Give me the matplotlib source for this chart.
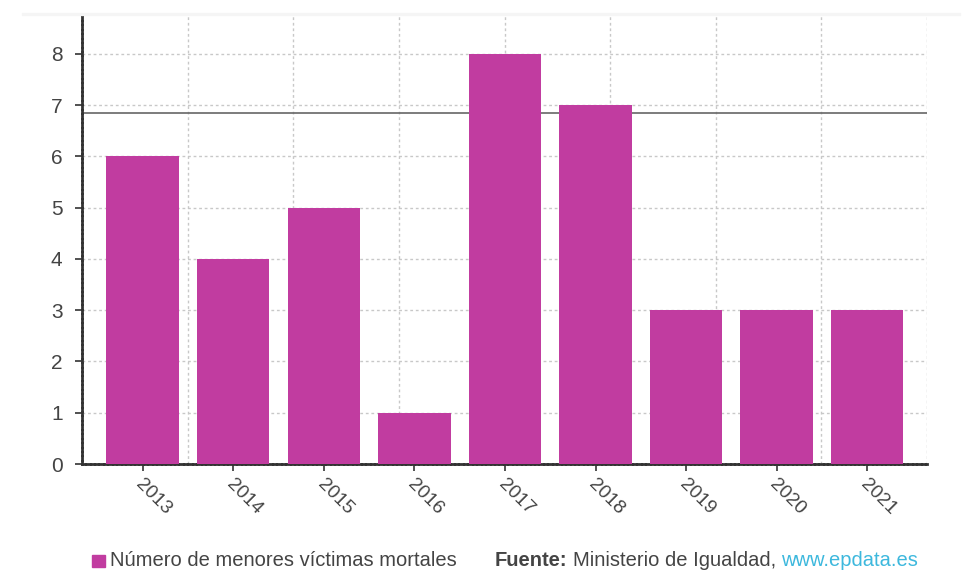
import matplotlib
matplotlib.use("Agg")
import matplotlib.pyplot as plt
from matplotlib.patches import Rectangle
import matplotlib.transforms as mtransforms

years = ["2013", "2014", "2015", "2016", "2017", "2018", "2019", "2020", "2021"]
values = [6, 4, 5, 1, 8, 7, 3, 3, 3]
ref_line = 6.85
yticks = [0, 1, 2, 3, 4, 5, 6, 7, 8]
legend_label = "Número de menores víctimas mortales"

bar_color = "#C13CA0"
text_color = "#444444"

plt.rcParams['font.family'] = ['Liberation Sans', 'DejaVu Sans']

W, H = 971, 570
fig = plt.figure(figsize=(W / 100, H / 100), dpi=100)
ax = fig.add_axes([82 / W, 1 - 464 / H, (927 - 82) / W, (464 - 14) / H])

x = list(range(len(years)))
ax.bar(x, values, width=0.8, color=bar_color, zorder=3)
ax.axhline(ref_line, color="#666666", linewidth=1.2, zorder=2)

ax.set_xlim(-0.67, 8.66)
ax.set_ylim(0, 8.78)
ax.set_yticks(yticks)
ax.set_xticks(x)
ax.set_xticklabels([])

# rotated x labels
base = mtransforms.blended_transform_factory(ax.transData, ax.transAxes)
offset = mtransforms.ScaledTranslation(2 / 100, -12 / 100, fig.dpi_scale_trans)
for xi, yr in zip(x, years):
    ax.text(xi, 0, yr, transform=base + offset, rotation=-45, ha="left", va="top",
            rotation_mode="anchor", fontsize=13.8, color=text_color, clip_on=False)

# grid
ax.yaxis.grid(True, color="#c8c8c8", linestyle=(0, (2, 2)), linewidth=1, zorder=0)
x0, x1 = ax.get_xlim()
for i in range(1, 9):
    xv = x0 + (x1 - x0) * i / 8
    ax.axvline(xv, color="#c8c8c8", linestyle=(0, (2, 2)), linewidth=1, zorder=0)

for s in ["top", "right"]:
    ax.spines[s].set_visible(False)
for s in ["left", "bottom"]:
    ax.spines[s].set_color("#333333")
    ax.spines[s].set_linewidth(2)
    ax.spines[s].set_linestyle((0, (1, 0.6)))

ax.tick_params(axis="both", colors="#333333", labelcolor=text_color, length=5, width=1.2)
ax.tick_params(axis="y", pad=9, labelsize=15)

# faint top band
fig.patches.append(Rectangle((22 / W, 1 - 15 / H), (960 - 22) / W, 2 / H,
                             transform=fig.transFigure, color="#f5f5f5", zorder=0))

# legend
fs = 14.5
ly = 1 - 561 / H
fig.patches.append(Rectangle((92 / W, 1 - 567 / H), 13 / W, 12 / H,
                             transform=fig.transFigure, color=bar_color))
fig.text(110 / W, ly, legend_label, fontsize=fs, color=text_color, va="center")
t1 = fig.text(495 / W, ly, "Fuente:", fontsize=fs, color=text_color,
              va="center", fontweight="bold")
fig.canvas.draw()
bb = t1.get_window_extent()
t2 = fig.text(bb.x1 / W + 5 / W, ly, "Ministerio de Igualdad,", fontsize=fs,
              color=text_color, va="center")
fig.canvas.draw()
bb2 = t2.get_window_extent()
fig.text(bb2.x1 / W + 5 / W, ly, "www.epdata.es", fontsize=fs,
         color="#3DB8DD", va="center")

fig.savefig("out.png", dpi=100)
